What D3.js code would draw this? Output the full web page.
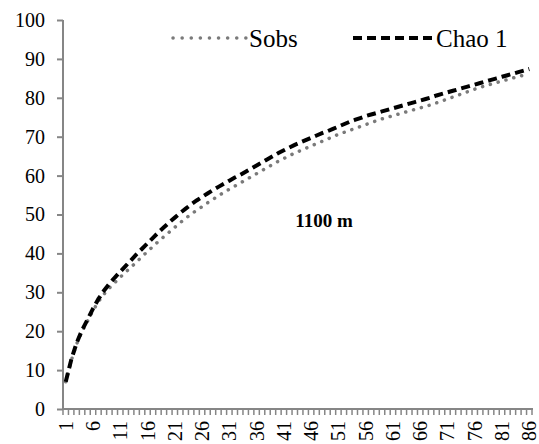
<!DOCTYPE html>
<html><head><meta charset="utf-8">
<script src="https://cdn.jsdelivr.net/npm/d3@7"></script>
<style>
html,body{margin:0;padding:0;background:#fff;}
svg{display:block;}
</style></head>
<body><div id="chart"></div>
<script>
const samples = d3.range(1, 87);
const sobs = [7.0,12.4,16.7,20.0,22.6,25.3,27.6,29.5,31.1,32.5,33.9,35.2,36.5,37.8,39.2,40.5,41.8,43.1,44.3,45.5,
46.7,47.9,49.0,50.1,51.1,52.0,53.0,53.9,54.8,55.7,56.5,57.3,58.1,58.9,59.7,60.5,61.3,62.1,62.9,63.7,
64.4,65.1,65.8,66.4,67.0,67.6,68.2,68.8,69.4,70.0,70.6,71.1,71.6,72.1,72.6,73.1,73.6,74.1,74.6,75.0,
75.4,75.8,76.2,76.6,77.0,77.4,77.8,78.2,78.7,79.2,79.7,80.2,80.7,81.2,81.7,82.2,82.7,83.1,83.5,83.9,
84.3,84.7,85.1,85.5,85.8,86.1];
const chao1 = [7.0,12.6,17.0,20.3,23.0,25.8,28.3,30.4,32.2,33.8,35.3,36.8,38.3,39.8,41.2,42.6,44.0,45.4,46.7,48.0,
49.2,50.4,51.5,52.6,53.6,54.5,55.4,56.3,57.1,57.9,58.7,59.5,60.2,61.0,61.8,62.6,63.4,64.2,65.0,65.8,
66.5,67.2,67.9,68.5,69.1,69.7,70.3,70.9,71.4,72.0,72.6,73.2,73.8,74.3,74.8,75.3,75.7,76.1,76.5,76.9,
77.3,77.7,78.1,78.5,78.9,79.3,79.7,80.1,80.6,81.0,81.4,81.8,82.2,82.6,83.0,83.4,83.8,84.2,84.6,85.0,
85.4,85.8,86.2,86.6,87.0,87.4];
const yTicks = [0,10,20,30,40,50,60,70,80,90,100];
const xTickLabels = [1,6,11,16,21,26,31,36,41,46,51,56,61,66,71,76,81,86];
const seriesNames = ["Sobs","Chao 1"];
const annotation = "1100 m";

const W = 539, H = 444;
const serif = '"Liberation Serif"';
const svg = d3.select("#chart").append("svg").attr("width", W).attr("height", H);

const x = d3.scaleBand().domain(samples).range([63, 532]);
const y = d3.scaleLinear().domain([0, 100]).range([409, 20]);
const axisColor = "#868686";

// Y axis
const yAxis = svg.append("g").attr("transform", "translate(63,0)")
  .call(d3.axisLeft(y).tickValues(yTicks).tickSize(6).tickPadding(12).tickFormat(d3.format("d")));
yAxis.select(".domain").attr("stroke", axisColor).attr("stroke-width", 2).attr("d", "M0," + y(100) + "V" + y(0));
yAxis.selectAll(".tick line").attr("stroke", axisColor).attr("stroke-width", 2);
yAxis.selectAll(".tick text").style("font-family", serif).style("font-size", "20px").attr("fill", "#000");

// X axis line + minor ticks at category boundaries
const gx = svg.append("g");
const bounds = samples.map(d => x(d)).concat([x(86) + x.bandwidth()]);
gx.selectAll("line.tk").data(bounds).join("line")
  .attr("x1", d => d).attr("x2", d => d).attr("y1", y(0)).attr("y2", y(0) + 6)
  .attr("stroke", axisColor).attr("stroke-width", 1.5);
gx.append("line").attr("x1", 62).attr("x2", 533).attr("y1", y(0)).attr("y2", y(0))
  .attr("stroke", axisColor).attr("stroke-width", 2);
gx.selectAll("text").data(xTickLabels).join("text")
  .attr("transform", d => `translate(${x(d) + x.bandwidth()/2},421) rotate(-90)`)
  .attr("text-anchor", "end").attr("dy", "0.35em")
  .style("font-family", serif).style("font-size", "20px")
  .text(d => d);

// Lines
const line = (vals) => d3.line().x((d, i) => x(samples[i]) + x.bandwidth()/2).y(d => y(d))(vals);
svg.append("path").attr("d", line(sobs)).attr("fill", "none").attr("stroke", "#7a7a7a")
  .attr("stroke-width", 3.5).attr("stroke-linecap", "round").attr("stroke-dasharray", "0.1,8");
svg.append("path").attr("d", line(chao1)).attr("fill", "none").attr("stroke", "#000")
  .attr("stroke-width", 4).attr("stroke-dasharray", "9,5");

// Legend
const lg = svg.append("g");
lg.append("line").attr("x1", 173).attr("x2", 246).attr("y1", 38).attr("y2", 38)
  .attr("stroke", "#7a7a7a").attr("stroke-width", 3.5).attr("stroke-linecap", "round").attr("stroke-dasharray", "0.1,9");
lg.append("text").attr("x", 249).attr("y", 47).style("font-family", serif).style("font-size", "25px").text(seriesNames[0]);
lg.append("line").attr("x1", 353).attr("x2", 433).attr("y1", 38).attr("y2", 38)
  .attr("stroke", "#000").attr("stroke-width", 4).attr("stroke-dasharray", "9,5");
lg.append("text").attr("x", 436).attr("y", 47).style("font-family", serif).style("font-size", "25px").text(seriesNames[1]);

// Annotation
svg.append("text").attr("x", 324).attr("y", 227).attr("text-anchor", "middle")
  .style("font-family", serif).style("font-size", "19px").attr("font-weight", "bold").text(annotation);
</script></body></html>
